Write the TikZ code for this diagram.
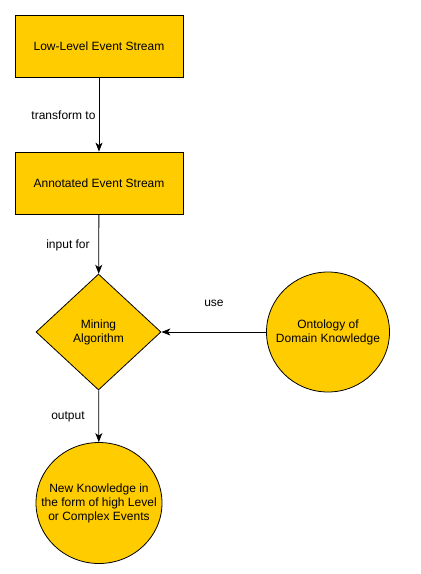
\documentclass[tikz,border=0pt]{standalone}
\usepackage{fontspec}
\setmainfont{Liberation Sans}
\usetikzlibrary{shapes.geometric,arrows.meta}
\definecolor{boxfill}{HTML}{FFCC00}
\begin{document}
\begin{tikzpicture}[x=1pt,y=-1pt,
  every node/.style={font=\fontsize{12}{14}\selectfont},
  rectbox/.style={draw=black,fill=boxfill,minimum width=168pt,minimum height=62pt,inner sep=0pt,line width=0.8pt},
  diam/.style={draw=black,fill=boxfill,diamond,minimum width=125pt,minimum height=116pt,inner sep=0pt,line width=0.8pt,align=center},
  ell/.style={draw=black,fill=boxfill,ellipse,inner sep=0pt,line width=0.8pt},
  conn/.style={draw=black,line width=0.8pt,-{Stealth[length=9pt,width=7pt,inset=2.5pt]}},
  lbl/.style={inner sep=0pt,align=center}]
\useasboundingbox (0,0) rectangle (421,574);
\fill[white] (0,0) rectangle (421,574);
\node[rectbox] (a) at (99,46) {Low-Level Event Stream};
\node[rectbox] (b) at (99,183) {Annotated Event Stream};
\node[diam] (c) at (98.5,332) {Mining\\Algorithm};
\node[ell,minimum width=123pt,minimum height=120pt] (d) at (328,332) {};
\node[lbl] (dt) at (d.center) {Ontology of\\Domain Knowledge};
\node[ell,minimum width=126pt,minimum height=121pt] (e) at (99,503) {};
\node[lbl] (et) at (e.center) {New Knowledge in\\the form of high Level\\or Complex Events};
\draw[conn] (a) -- (b);
\draw[conn] (b) -- (c);
\draw[conn] (c) -- (e);
\draw[conn] (d) -- (c);
\node[lbl] (l1) at (63.5,115.5) {transform to};
\node[lbl] (l2) at (68,245) {input for};
\node[lbl] (l3) at (214,303) {use};
\node[lbl] (l4) at (68,417) {output};
\end{tikzpicture}
\end{document}
